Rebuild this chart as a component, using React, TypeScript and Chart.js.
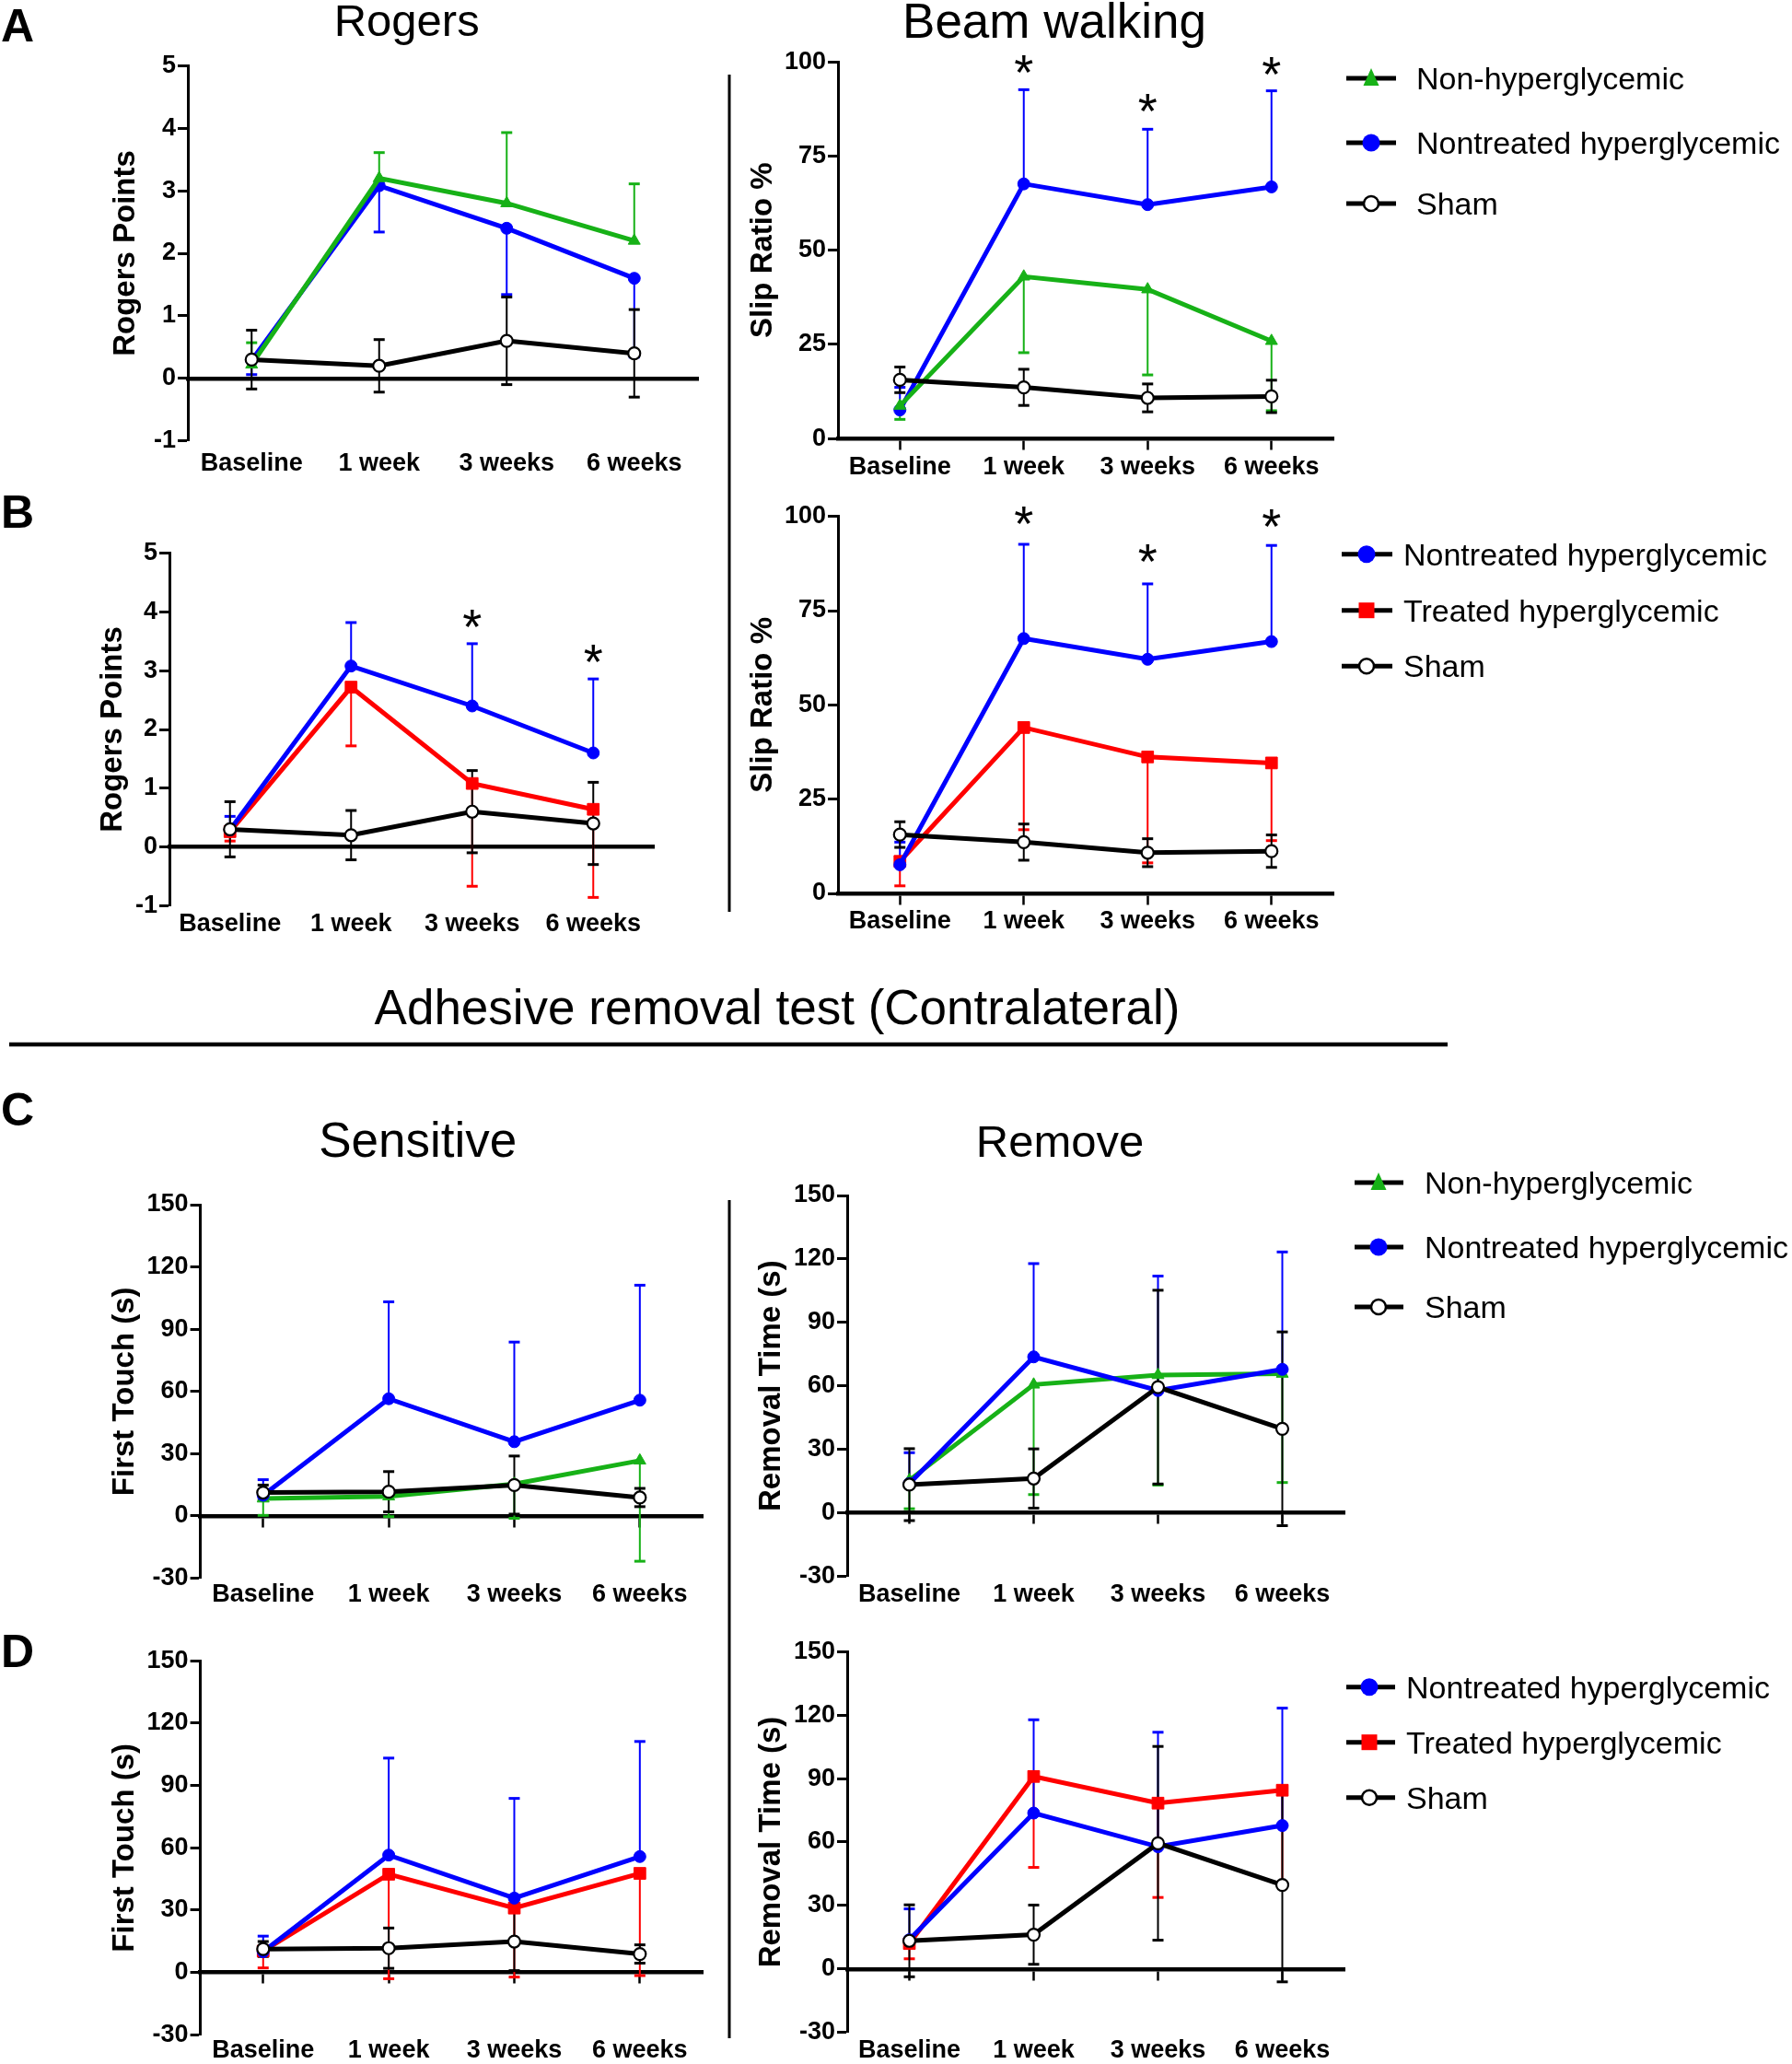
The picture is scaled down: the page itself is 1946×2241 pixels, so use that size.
import React, { useEffect, useRef } from 'react';
import { Chart, registerables } from 'chart.js';

Chart.register(...registerables);

const FONT = '"Liberation Sans", Arial, Helvetica, sans-serif';
Chart.defaults.font.family = FONT;
Chart.defaults.color = '#000';

// ---------------- data ----------------
const categories = ['Baseline', '1 week', '3 weeks', '6 weeks'];

// Rogers points
const rogersNonHyper = [0.22, 3.2, 2.8, 2.2];
const rogersNonHyperErr = [0.35, 0.41, 1.13, 0.91];
const rogersNontreated = [0.29, 3.08, 2.4, 1.6];
const rogersNontreatedErr = [0.23, 0.74, 1.06, 1.26];
const rogersTreated = [0.26, 2.72, 1.08, 0.64];
const rogersTreatedErr = [0.16, 1.0, 1.75, 1.5];
const rogersSham = [0.3, 0.2, 0.6, 0.4];
const rogersShamErr = [0.47, 0.42, 0.7, 0.7];

// Beam walking slip ratio %
const beamNonHyper = [8.7, 43.0, 39.6, 25.9];
const beamNonHyperErr = [3.6, 20.2, 22.7, 18.5];
const beamNontreated = [7.6, 67.6, 62.1, 66.8];
const beamNontreatedErr = [6.0, 25.0, 20.0, 25.5];
const beamTreated = [8.5, 44.0, 36.2, 34.6];
const beamTreatedErr = [6.5, 27.1, 28.1, 20.6];
const beamSham = [15.6, 13.6, 10.8, 11.2];
const beamShamErr = [3.4, 4.8, 3.7, 4.3];

// First touch (s)
const touchNonHyper = [8.4, 9.4, 15.4, 26.7];
const touchNonHyperErr = [8.1, 9.7, 16.5, 48.5];
const touchNontreated = [10.0, 56.5, 35.8, 55.8];
const touchNontreatedErr = [7.5, 46.7, 48.0, 55.4];
const touchTreated = [10.3, 47.3, 31.0, 47.7];
const touchTreatedErr = [8.1, 50.3, 33.2, 49.2];
const touchSham = [11.3, 11.7, 14.9, 8.9];
const touchShamErr = [3.6, 9.7, 14.0, 4.4];

// Removal time (s)
const removeNonHyper = [15.4, 60.6, 65.1, 65.7];
const removeNonHyperErr = [13.5, 52.0, 52.0, 51.4];
const removeNontreated = [13.8, 73.7, 57.8, 67.8];
const removeNontreatedErr = [14.6, 44.1, 54.1, 55.5];
const removeTreated = [12.0, 91.0, 78.4, 84.5];
const removeTreatedErr = [7.2, 43.0, 44.6, 45.0];
const removeSham = [13.3, 16.2, 59.4, 39.7];
const removeShamErr = [17.0, 14.0, 45.8, 45.8];

// significance markers (value where the asterisk sits)
const beamStarsA = [null, 99.2, 89, 98.7];
const beamStarsB = [null, 100, 90, 99.4];
const rogersStarsB = [null, null, 3.88, 3.28];

// axis ranges [min, max, step]
const rogersRange = [-1, 5, 1];
const beamRange = [0, 100, 25];
const timeRange = [-30, 150, 30];

// ---------------- styles ----------------
const GROUPS: any = {
  nonHyper: { label: 'Non-hyperglycemic', color: '#17b117', fill: '#17b117', point: 'triangle', radius: 7.5 },
  nontreated: { label: 'Nontreated hyperglycemic', color: '#0000ff', fill: '#0000ff', point: 'circle', radius: 6.5 },
  treated: { label: 'Treated hyperglycemic', color: '#ff0000', fill: '#ff0000', point: 'rect', radius: 9 },
  sham: { label: 'Sham', color: '#000000', fill: '#ffffff', point: 'circle', radius: 6.5 },
};

const S = (g: string, data: number[], err: number[], dir: string) => ({ g, data, err, dir });

const panels: any[] = [
  {
    key: 'A1', canvasLeft: 0, area: { l: 204, t: 71.3, r: 758, b: 478.7 }, range: rogersRange,
    yTitle: 'Rogers Points', yTitleX: 137, labelGap: 9, xTicks: false, stars: null,
    series: [S('sham', rogersSham, rogersShamErr, 'both'), S('nonHyper', rogersNonHyper, rogersNonHyperErr, 'up'), S('nontreated', rogersNontreated, rogersNontreatedErr, 'down')],
  },
  {
    key: 'A2', canvasLeft: 795, area: { l: 910, t: 67.1, r: 1448, b: 476.2 }, range: beamRange,
    yTitle: 'Slip Ratio %', yTitleX: 829, labelGap: 15, xTicks: true, stars: beamStarsA,
    series: [S('sham', beamSham, beamShamErr, 'both'), S('nonHyper', beamNonHyper, beamNonHyperErr, 'down'), S('nontreated', beamNontreated, beamNontreatedErr, 'up')],
  },
  {
    key: 'B1', canvasLeft: 0, area: { l: 184, t: 600.7, r: 710, b: 983.3 }, range: rogersRange,
    yTitle: 'Rogers Points', yTitleX: 123, labelGap: 4, xTicks: false, stars: rogersStarsB,
    series: [S('sham', rogersSham, rogersShamErr, 'both'), S('nontreated', rogersNontreated, rogersNontreatedErr, 'up'), S('treated', rogersTreated, rogersTreatedErr, 'down')],
  },
  {
    key: 'B2', canvasLeft: 795, area: { l: 910, t: 560.7, r: 1448, b: 970 }, range: beamRange,
    yTitle: 'Slip Ratio %', yTitleX: 829, labelGap: 14, xTicks: true, stars: beamStarsB,
    series: [S('sham', beamSham, beamShamErr, 'both'), S('nontreated', beamNontreated, beamNontreatedErr, 'up'), S('treated', beamTreated, beamTreatedErr, 'down')],
  },
  {
    key: 'C1', canvasLeft: 0, area: { l: 217.6, t: 1308, r: 763, b: 1713.6 }, range: timeRange,
    yTitle: 'First Touch (s)', yTitleX: 136, labelGap: 2, xTicks: true, stars: null,
    series: [S('sham', touchSham, touchShamErr, 'both'), S('nontreated', touchNontreated, touchNontreatedErr, 'up'), S('nonHyper', touchNonHyper, touchNonHyperErr, 'down')],
  },
  {
    key: 'C2', canvasLeft: 795, area: { l: 920, t: 1298, r: 1460, b: 1711.4 }, range: timeRange,
    yTitle: 'Removal Time (s)', yTitleX: 838, labelGap: 4, xTicks: true, stars: null,
    series: [S('sham', removeSham, removeShamErr, 'both'), S('nontreated', removeNontreated, removeNontreatedErr, 'up'), S('nonHyper', removeNonHyper, removeNonHyperErr, 'down')],
  },
  {
    key: 'D1', canvasLeft: 0, area: { l: 217.6, t: 1803.3, r: 763, b: 2209.3 }, range: timeRange,
    yTitle: 'First Touch (s)', yTitleX: 136, labelGap: 1, xTicks: true, stars: null,
    series: [S('sham', touchSham, touchShamErr, 'both'), S('nontreated', touchNontreated, touchNontreatedErr, 'up'), S('treated', touchTreated, touchTreatedErr, 'down')],
  },
  {
    key: 'D2', canvasLeft: 795, area: { l: 920, t: 1793.3, r: 1460, b: 2206.7 }, range: timeRange,
    yTitle: 'Removal Time (s)', yTitleX: 838, labelGap: 4, xTicks: true, stars: null,
    series: [S('sham', removeSham, removeShamErr, 'both'), S('nontreated', removeNontreated, removeNontreatedErr, 'up'), S('treated', removeTreated, removeTreatedErr, 'down')],
  },
];

const PAGE_H = 2241;

function boxFor(p: any) {
  const l = p.canvasLeft;
  const t = Math.floor(p.area.t - 32);
  const pt = p.area.t - t;
  const w = Math.ceil(p.area.r + 14 - l);
  const pr = w - (p.area.r - l);
  const bottom = Math.min(PAGE_H, Math.ceil(p.area.b + 52));
  const h = bottom - t;
  const hx = bottom - p.area.b;
  const yw = p.area.l - l;
  return { l, t, w, h, pt, pr, hx, yw };
}

const errorBarPlugin = {
  id: 'errorBars',
  beforeDatasetsDraw(chart: any) {
    const { ctx } = chart;
    const yScale = chart.scales.y;
    const n = chart.data.datasets.length;
    for (let i = n - 1; i >= 0; i--) {
      const ds: any = chart.data.datasets[i];
      if (!ds.errors) continue;
      const meta = chart.getDatasetMeta(i);
      ctx.save();
      ctx.strokeStyle = ds.borderColor;
      meta.data.forEach((el: any, j: number) => {
        const v = ds.data[j];
        const e = ds.errors[j];
        const ends: number[] = [];
        if (ds.errDir !== 'down') ends.push(v + e);
        if (ds.errDir !== 'up') ends.push(v - e);
        ends.forEach((end) => {
          const py = yScale.getPixelForValue(end);
          ctx.lineWidth = 2;
          ctx.beginPath();
          ctx.moveTo(el.x, el.y);
          ctx.lineTo(el.x, py);
          ctx.stroke();
          ctx.lineWidth = 3;
          ctx.beginPath();
          ctx.moveTo(el.x - 6, py);
          ctx.lineTo(el.x + 6, py);
          ctx.stroke();
        });
      });
      ctx.restore();
    }
  },
};

function starPlugin(values: (number | null)[] | null) {
  return {
    id: 'stars',
    afterDatasetsDraw(chart: any) {
      if (!values) return;
      const { ctx } = chart;
      const x = chart.scales.x;
      const y = chart.scales.y;
      const size = 54;
      ctx.save();
      ctx.fillStyle = '#000';
      ctx.font = `${size}px ${FONT}`;
      ctx.textAlign = 'center';
      ctx.textBaseline = 'alphabetic';
      values.forEach((v, i) => {
        if (v == null) return;
        ctx.fillText('*', x.getPixelForValue(i), y.getPixelForValue(v) + size * 0.49);
      });
      ctx.restore();
    },
  };
}

function buildConfig(p: any) {
  const b = boxFor(p);
  const [yMin, yMax, yStep] = p.range;
  const titleSize = 33;
  const titlePad = p.yTitleX - b.l - (titleSize * 1.2) / 2;
  const datasets = p.series.map((s: any) => {
    const g = GROUPS[s.g];
    return {
      label: g.label,
      data: s.data,
      errors: s.err,
      errDir: s.dir,
      borderColor: g.color,
      backgroundColor: g.fill,
      borderWidth: 5,
      pointStyle: g.point,
      pointRadius: g.radius,
      pointBackgroundColor: g.fill,
      pointBorderColor: g.color,
      pointBorderWidth: s.g === 'sham' ? 2.2 : 1,
      tension: 0,
      fill: false,
      clip: false,
    };
  });
  return {
    type: 'line',
    data: { labels: categories, datasets },
    plugins: [errorBarPlugin, starPlugin(p.stars)],
    options: {
      responsive: false,
      animation: false,
      events: [],
      layout: { padding: { left: 0, top: b.pt, right: b.pr, bottom: 0 } },
      plugins: { legend: { display: false }, tooltip: { enabled: false } },
      scales: {
        x: {
          type: 'category',
          position: { y: 0 },
          offset: true,
          grid: {
            display: true,
            drawOnChartArea: false,
            drawTicks: p.xTicks,
            tickLength: 10,
            tickWidth: 2.5,
            tickColor: '#000',
            offset: false,
          },
          border: { display: true, width: 4.5, color: '#000' },
          ticks: { display: false },
        },
        x2: {
          type: 'category',
          position: 'bottom',
          offset: true,
          grid: { display: false, drawTicks: false },
          border: { display: false },
          ticks: {
            color: '#000',
            font: { size: 27, weight: 'bold', family: FONT },
            padding: p.labelGap,
            maxRotation: 0,
            autoSkip: false,
          },
          afterFit: (s: any) => { s.height = b.hx; },
        },
        y: {
          type: 'linear',
          position: 'left',
          min: yMin,
          max: yMax,
          ticks: {
            stepSize: yStep,
            color: '#000',
            font: { size: 27, weight: 'bold', family: FONT },
            padding: 2,
            autoSkip: false,
          },
          grid: {
            display: true,
            drawOnChartArea: false,
            drawTicks: true,
            tickLength: 11,
            tickWidth: 3,
            tickColor: '#000',
          },
          border: { display: true, width: 3, color: '#000' },
          title: {
            display: true,
            text: p.yTitle,
            color: '#000',
            font: { size: titleSize, weight: 'bold', family: FONT },
            padding: { top: titlePad, bottom: 0 },
          },
          afterFit: (s: any) => { s.width = b.yw; },
        },
      },
    },
  };
}

function ChartPanel({ panel }: { panel: any }) {
  const ref = useRef<HTMLCanvasElement>(null);
  const b = boxFor(panel);
  useEffect(() => {
    const chart = new Chart(ref.current as HTMLCanvasElement, buildConfig(panel) as any);
    return () => chart.destroy();
  }, []);
  return (
    <canvas
      ref={ref}
      width={b.w}
      height={b.h}
      style={{ position: 'absolute', left: b.l, top: b.t, width: b.w, height: b.h }}
    />
  );
}

const legends = [
  { x1: 1462, x2: 1516, mx: 1489, tx: 1538, rows: [85, 155, 221], groups: ['nonHyper', 'nontreated', 'sham'] },
  { x1: 1457, x2: 1512, mx: 1484, tx: 1524, rows: [601.7, 662.7, 723.3], groups: ['nontreated', 'treated', 'sham'] },
  { x1: 1471, x2: 1524, mx: 1497, tx: 1547, rows: [1284, 1354, 1419], groups: ['nonHyper', 'nontreated', 'sham'] },
  { x1: 1462, x2: 1515, mx: 1487, tx: 1527, rows: [1831.7, 1891.7, 1951.7], groups: ['nontreated', 'treated', 'sham'] },
];

function LegendRow({ g, x1, x2, mx, tx, y }: any) {
  const s = GROUPS[g];
  let marker;
  if (s.point === 'triangle') {
    marker = <polygon points={`${mx},${y - 11} ${mx - 8.5},${y + 8} ${mx + 8.5},${y + 8}`} fill={s.color} />;
  } else if (s.point === 'rect') {
    marker = <rect x={mx - 8.5} y={y - 8.5} width={17} height={17} fill={s.color} />;
  } else if (g === 'sham') {
    marker = <circle cx={mx} cy={y} r={8} fill="#fff" stroke="#000" strokeWidth={2.5} />;
  } else {
    marker = <circle cx={mx} cy={y} r={9.5} fill={s.color} />;
  }
  return (
    <g>
      <line x1={x1} x2={x2} y1={y} y2={y} stroke="#000" strokeWidth={5} />
      {marker}
      <text x={tx} y={y + 12} fontSize={34} fontFamily={FONT} fill="#000">{s.label}</text>
    </g>
  );
}

const titles = [
  { text: 'Rogers', x: 441.7, y: 39, size: 49 },
  { text: 'Beam walking', x: 1145, y: 40.6, size: 53 },
  { text: 'Adhesive removal test (Contralateral)', x: 844, y: 1111.7, size: 53 },
  { text: 'Sensitive', x: 453.7, y: 1256, size: 53 },
  { text: 'Remove', x: 1151, y: 1256, size: 49 },
];

const letters = [
  { text: 'A', y: 45 },
  { text: 'B', y: 573 },
  { text: 'C', y: 1222 },
  { text: 'D', y: 1810 },
];

export default function App() {
  return (
    <div style={{ position: 'absolute', left: 0, top: 0, width: 1946, height: PAGE_H, overflow: 'hidden', background: '#fff' }}>
      {panels.map((p) => <ChartPanel key={p.key} panel={p} />)}
      <svg width={1946} height={PAGE_H} style={{ position: 'absolute', left: 0, top: 0, pointerEvents: 'none' }}>
        {letters.map((l) => (
          <text key={l.text} x={1} y={l.y} fontSize={50} fontWeight="bold" fontFamily={FONT} fill="#000">{l.text}</text>
        ))}
        {titles.map((t) => (
          <text key={t.text} x={t.x} y={t.y} fontSize={t.size} textAnchor="middle" fontFamily={FONT} fill="#000">{t.text}</text>
        ))}
        <line x1={10} x2={1572} y1={1134} y2={1134} stroke="#000" strokeWidth={4.5} />
        <line x1={792} x2={792} y1={81} y2={990} stroke="#000" strokeWidth={3} />
        <line x1={792} x2={792} y1={1303} y2={2213} stroke="#000" strokeWidth={3} />
        {legends.map((lg, i) => (
          <g key={i}>
            {lg.groups.map((g, j) => (
              <LegendRow key={g} g={g} x1={lg.x1} x2={lg.x2} mx={lg.mx} tx={lg.tx} y={lg.rows[j]} />
            ))}
          </g>
        ))}
      </svg>
    </div>
  );
}
